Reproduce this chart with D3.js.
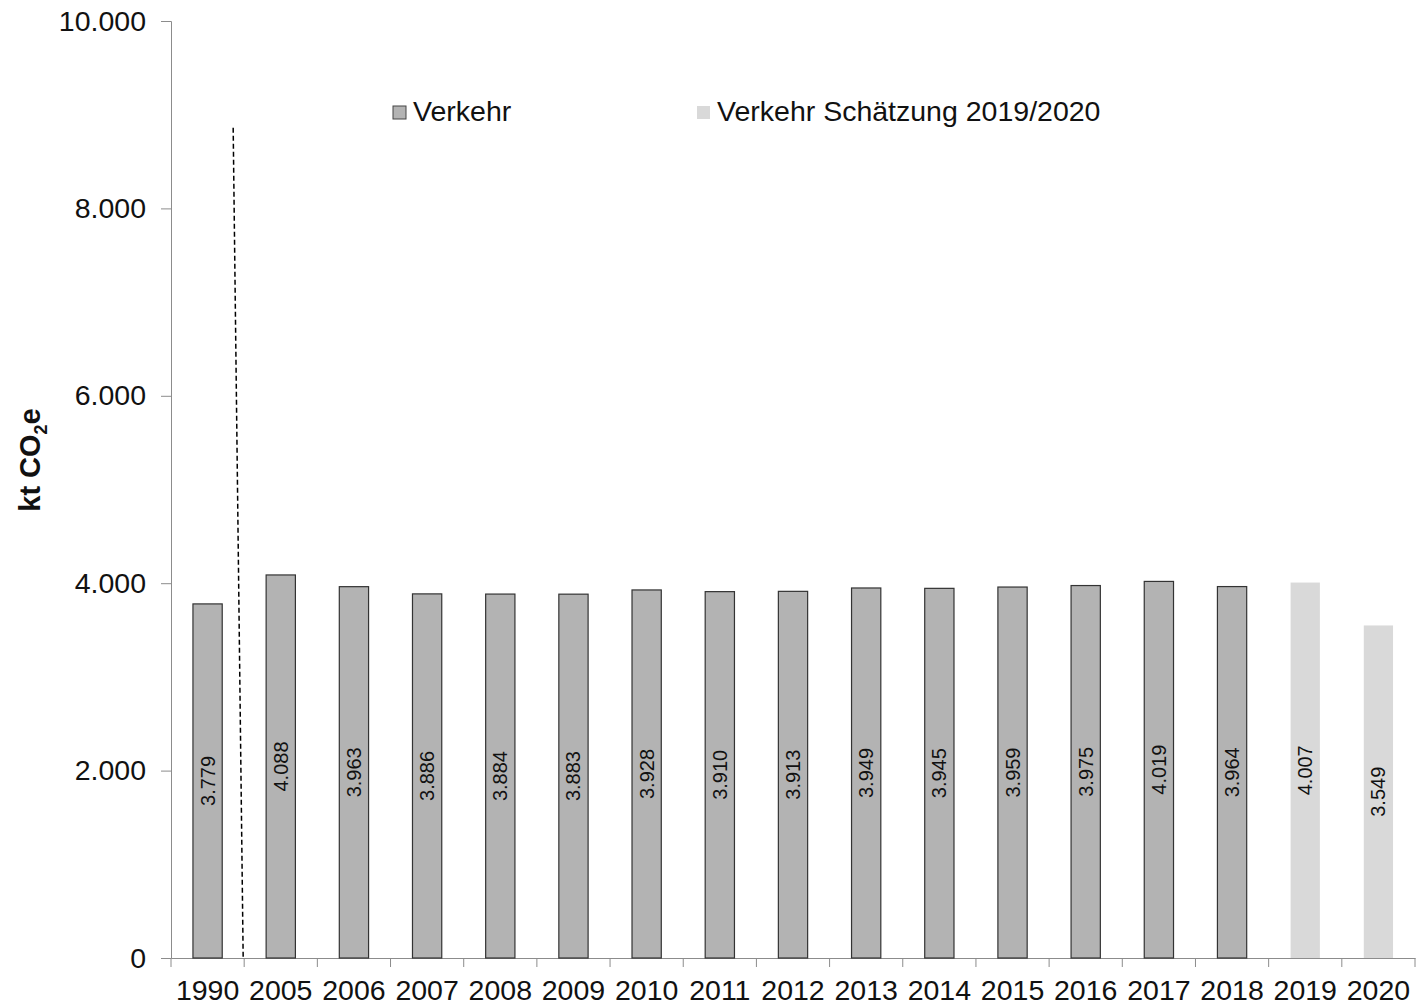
<!DOCTYPE html>
<html>
<head>
<meta charset="utf-8">
<script src="https://cdn.jsdelivr.net/npm/d3@7"></script>
<style>
  body { margin: 0; background: #fff; }
  text { font-family: "Liberation Sans", Arial, sans-serif; fill: #111; }
</style>
</head>
<body>
<svg id="chart"></svg>
<script>
// data
var years = ["1990","2005","2006","2007","2008","2009","2010","2011","2012","2013","2014","2015","2016","2017","2018","2019","2020"];
var values = [3779,4088,3963,3886,3884,3883,3928,3910,3913,3949,3945,3959,3975,4019,3964,4007,3549];
var estimateYears = ["2019","2020"];
var yTicks = [0,2000,4000,6000,8000,10000];
var seriesNames = ["Verkehr","Verkehr Schätzung 2019/2020"];
var seriesColors = ["#b3b3b3","#d9d9d9"];

var width = 1416, height = 1006;
var svg = d3.select("#chart").attr("width", width).attr("height", height);

var de = d3.formatLocale({decimal: ",", thousands: ".", grouping: [3], currency: ["", " €"]});
var fmt = de.format(",");

var x = d3.scaleBand().domain(years).range([171, 1415]).paddingInner(0.6).paddingOuter(0.3);
var y = d3.scaleLinear().domain([0, 10000]).range([958, 21]);
var axisColor = "#8c8c8c";

// y axis
var yAxis = svg.append("g").attr("transform", "translate(171,0)")
  .call(d3.axisLeft(y).tickValues(yTicks).tickSize(10).tickPadding(15).tickFormat(fmt));
yAxis.select(".domain").attr("stroke", axisColor);
yAxis.selectAll(".tick line").attr("stroke", axisColor);
yAxis.selectAll(".tick text").style("font-size", "28.5px").attr("fill", "#111")
  .style("font-family", "'Liberation Sans', Arial, sans-serif");

// x axis: labels centred on bars, ticks on category boundaries
var xAxis = svg.append("g").attr("transform", "translate(0,958)")
  .call(d3.axisBottom(x).tickSize(0).tickPadding(22));
xAxis.select(".domain").attr("stroke", axisColor);
xAxis.selectAll(".tick text").style("font-size", "28.5px").attr("fill", "#111")
  .style("font-family", "'Liberation Sans', Arial, sans-serif");
var bounds = d3.range(years.length + 1).map(function(i) { return x.range()[0] + i * x.step(); });
svg.append("g").selectAll("line").data(bounds).enter().append("line")
  .attr("x1", function(d) { return d; }).attr("x2", function(d) { return d; })
  .attr("y1", 958).attr("y2", 967)
  .attr("stroke", axisColor);

// bars
var isEst = function(d) { return estimateYears.indexOf(d.year) >= 0; };
var rows = years.map(function(yr, i) { return {year: yr, value: values[i]}; });

svg.append("g").selectAll("rect").data(rows).enter().append("rect")
  .attr("x", function(d) { return x(d.year); })
  .attr("y", function(d) { return y(d.value); })
  .attr("width", x.bandwidth())
  .attr("height", function(d) { return y(0) - y(d.value); })
  .attr("fill", function(d) { return isEst(d) ? seriesColors[1] : seriesColors[0]; })
  .attr("stroke", function(d) { return isEst(d) ? "none" : "#333"; })
  .attr("stroke-width", 1.2);

// value labels, rotated, middle of each bar
svg.append("g").selectAll("text").data(rows).enter().append("text")
  .attr("transform", function(d) {
    var cx = x(d.year) + x.bandwidth() / 2;
    var cy = (y(d.value) + y(0)) / 2;
    return "translate(" + cx + "," + cy + ") rotate(-90)";
  })
  .attr("text-anchor", "middle")
  .attr("dy", "0.35em")
  .style("font-size", "20px")
  .text(function(d) { return fmt(d.value); });

// dashed separator between 1990 and 2005 (slightly slanted as in original)
svg.append("line")
  .attr("x1", bounds[1] - 11).attr("y1", y(8860))
  .attr("x2", bounds[1] - 1).attr("y2", y(0))
  .attr("stroke", "#000").attr("stroke-width", 1.5)
  .attr("stroke-dasharray", "5,3");

// y axis title
svg.append("text")
  .attr("transform", "translate(40,460) rotate(-90)")
  .attr("text-anchor", "middle")
  .style("font-size", "29px").style("font-weight", "bold")
  .html('kt CO<tspan dy="7" style="font-size:18px">2</tspan><tspan dy="-7">e</tspan>');

// legend
var legendX = [393, 697];
var legend = svg.append("g").selectAll("g").data(seriesNames).enter().append("g")
  .attr("transform", function(d, i) { return "translate(" + legendX[i] + ",106)"; });
legend.append("rect")
  .attr("width", 13).attr("height", 13)
  .attr("fill", function(d, i) { return seriesColors[i]; })
  .attr("stroke", function(d, i) { return i === 0 ? "#444" : "none"; });
legend.append("text")
  .attr("x", 20).attr("y", 15)
  .style("font-size", "28.5px")
  .text(function(d) { return d; });
</script>
</body>
</html>
